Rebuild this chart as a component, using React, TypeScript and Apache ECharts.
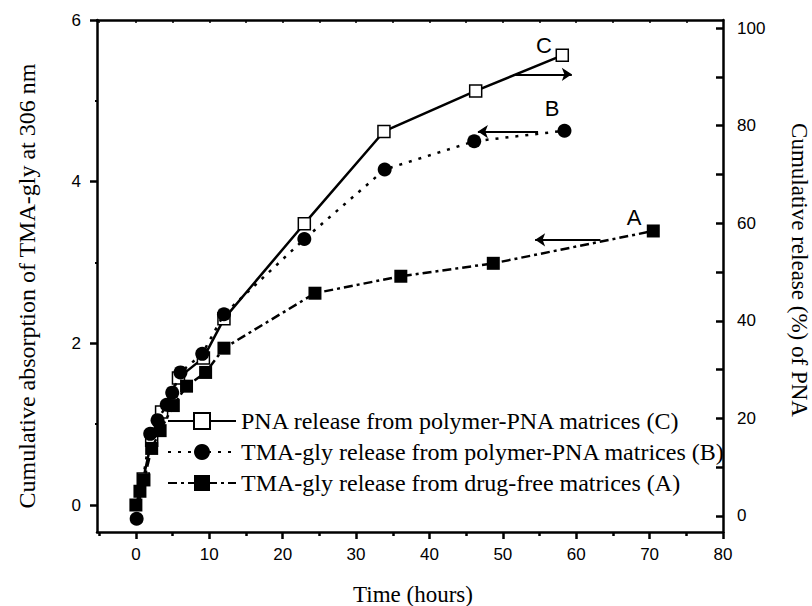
import React, { useEffect, useRef } from "react";
import * as echarts from "echarts";

// Series A: TMA-gly release from drug-free matrices (left axis, absorbance)
const timeA = [0, 0.55, 1.1, 2.15, 3.3, 5.1, 6.9, 9.5, 12.0, 24.4, 36.1, 48.7, 70.5];
const absA = [0.0, 0.17, 0.31, 0.7, 0.92, 1.23, 1.47, 1.64, 1.94, 2.62, 2.83, 2.99, 3.39];

// Series B: TMA-gly release from polymer-PNA matrices (left axis, absorbance)
const timeB = [0.1, 1.95, 2.95, 4.2, 4.95, 6.07, 9.04, 12.0, 22.95, 33.9, 46.1, 58.4];
const absB = [-0.17, 0.88, 1.05, 1.24, 1.39, 1.64, 1.87, 2.36, 3.29, 4.15, 4.5, 4.63];

// Series C: PNA release from polymer-PNA matrices (right axis, % released)
const timeC = [1.0, 2.15, 3.5, 5.8, 9.2, 12.0, 22.95, 33.8, 46.3, 58.1];
const pctC = [7.6, 15.5, 21.3, 28.3, 32.4, 40.4, 59.9, 78.8, 87.1, 94.4];

// Axis ticks / labels
const xMajor = [0, 10, 20, 30, 40, 50, 60, 70, 80];
const xMinor = [-5, 5, 15, 25, 35, 45, 55, 65, 75];
const xTop = [-5, 0, 5, 10, 15, 20, 25, 30, 35, 40, 45, 50, 55, 60, 65, 70, 75];
const yLeftMajor = [0, 2, 4, 6];
const yLeftMinor = [1, 3, 5];
const yRightLabels = [0, 20, 40, 60, 80, 100];
const yRightTicks = [0, 10, 20, 30, 40, 50, 60, 70, 80, 90, 100];

const nameC = "PNA release from polymer-PNA matrices (C)";
const nameB = "TMA-gly release from polymer-PNA matrices (B)";
const nameA = "TMA-gly release from drug-free matrices (A)";

const SANS = "Liberation Sans";
const SERIF = "Liberation Serif";

export default function App() {
  const ref = useRef<HTMLDivElement>(null);
  useEffect(() => {
    if (!ref.current) return;
    const chart = echarts.init(ref.current, null, { renderer: "svg" });
    const X_MIN = -5.3;
    const X_MAX = 80;
    const axisLine = { show: true, onZero: false, lineStyle: { color: "#000", width: 2.5 } };
    const noLine = { show: false, onZero: false };
    const labelStyle = { fontFamily: SANS, fontSize: 17, color: "#000" };
    const letterLabel = (t: string) => ({
      show: true,
      formatter: t,
      position: "inside",
      fontFamily: SANS,
      fontSize: 22,
      color: "#000",
    });
    const option: any = {
      animation: false,
      backgroundColor: "#fff",
      grid: { left: 97, right: 89, top: 20, bottom: 74 },
      legend: {
        orient: "vertical",
        left: 162,
        top: 404,
        itemWidth: 68,
        itemHeight: 20,
        itemGap: 7,
        textStyle: { fontFamily: SERIF, fontSize: 24, color: "#000" },
        data: [nameC, nameB, nameA],
      },
      xAxis: [
        {
          type: "value",
          min: X_MIN,
          max: X_MAX,
          position: "bottom",
          axisLine,
          axisTick: { show: true, length: 7, lineStyle: { color: "#000", width: 2.5 }, customValues: xMajor },
          axisLabel: { ...labelStyle, margin: 14, customValues: xMajor },
          splitLine: { show: false },
        },
        {
          type: "value",
          min: X_MIN,
          max: X_MAX,
          position: "bottom",
          axisLine: noLine,
          axisTick: { show: true, length: 4, lineStyle: { color: "#000", width: 2.5 }, customValues: xMinor },
          axisLabel: { show: false },
          splitLine: { show: false },
        },
        {
          type: "value",
          min: X_MIN,
          max: X_MAX,
          position: "top",
          axisLine,
          axisTick: { show: true, inside: true, length: 3, lineStyle: { color: "#000", width: 1.5 }, customValues: xTop },
          axisLabel: { show: false },
          splitLine: { show: false },
        },
      ],
      yAxis: [
        {
          type: "value",
          min: -0.334,
          max: 6,
          position: "left",
          axisLine,
          axisTick: { show: true, length: 7, lineStyle: { color: "#000", width: 2.5 }, customValues: yLeftMajor },
          axisLabel: { ...labelStyle, margin: 16, customValues: yLeftMajor },
          splitLine: { show: false },
        },
        {
          type: "value",
          min: -3.28,
          max: 101.64,
          position: "right",
          axisLine,
          axisTick: { show: true, inside: true, length: 7, lineStyle: { color: "#000", width: 2.5 }, customValues: yRightTicks },
          axisLabel: { ...labelStyle, margin: 14, customValues: yRightLabels },
          splitLine: { show: false },
        },
        {
          type: "value",
          min: -0.334,
          max: 6,
          position: "left",
          axisLine: noLine,
          axisTick: { show: true, length: 2, lineStyle: { color: "#000", width: 2 }, customValues: yLeftMinor },
          axisLabel: { show: false },
          splitLine: { show: false },
        },
      ],
      series: [
        {
          name: nameC,
          type: "line",
          xAxisIndex: 0,
          yAxisIndex: 1,
          data: timeC.map((t, i) => [t, pctC[i]]),
          symbol: "rect",
          symbolSize: 12,
          itemStyle: { color: "#fff", borderColor: "#000", borderWidth: 1.5 },
          lineStyle: { color: "#000", width: 2.5, type: "solid" },
          z: 2,
          markLine: {
            silent: true,
            symbol: ["none", "arrow"],
            symbolSize: 10,
            label: { show: false },
            lineStyle: { color: "#000", width: 2, type: "solid" },
            data: [[{ coord: [51.4, 90.5] }, { coord: [59.4, 90.5] }]],
          },
          markPoint: {
            silent: true,
            symbol: "circle",
            symbolSize: 1,
            itemStyle: { color: "transparent" },
            data: [{ coord: [55.6, 96.5], label: letterLabel("C") }],
          },
        },
        {
          name: nameB,
          type: "line",
          xAxisIndex: 0,
          yAxisIndex: 0,
          data: timeB.map((t, i) => [t, absB[i]]),
          symbol: "circle",
          symbolSize: 14,
          itemStyle: { color: "#000" },
          lineStyle: { color: "#000", width: 2.5, type: [3, 7] },
          z: 3,
          markLine: {
            silent: true,
            symbol: ["none", "arrow"],
            symbolSize: 10,
            label: { show: false },
            lineStyle: { color: "#000", width: 2, type: "solid" },
            data: [[{ coord: [54.8, 4.62] }, { coord: [46.6, 4.62] }]],
          },
          markPoint: {
            silent: true,
            symbol: "circle",
            symbolSize: 1,
            itemStyle: { color: "transparent" },
            data: [{ coord: [56.7, 4.9], label: letterLabel("B") }],
          },
        },
        {
          name: nameA,
          type: "line",
          xAxisIndex: 0,
          yAxisIndex: 0,
          data: timeA.map((t, i) => [t, absA[i]]),
          symbol: "rect",
          symbolSize: 13,
          itemStyle: { color: "#000" },
          lineStyle: { color: "#000", width: 2.5, type: [9, 4, 3, 4] },
          z: 4,
          markLine: {
            silent: true,
            symbol: ["none", "arrow"],
            symbolSize: 10,
            label: { show: false },
            lineStyle: { color: "#000", width: 2, type: "solid" },
            data: [[{ coord: [63.3, 3.28] }, { coord: [54.4, 3.28] }]],
          },
          markPoint: {
            silent: true,
            symbol: "circle",
            symbolSize: 1,
            itemStyle: { color: "transparent" },
            data: [{ coord: [67.9, 3.56], label: letterLabel("A") }],
          },
        },
      ],
      graphic: [
        {
          type: "text",
          x: 27,
          y: 286,
          rotation: Math.PI / 2,
          style: {
            text: "Cumulative absorption of TMA-gly at 306 nm",
            font: `24px "${SERIF}"`,
            fill: "#000",
            textAlign: "center",
            textVerticalAlign: "middle",
          },
        },
        {
          type: "text",
          x: 799,
          y: 270,
          rotation: -Math.PI / 2,
          style: {
            text: "Cumulative release (%) of PNA",
            font: `23px "${SERIF}"`,
            fill: "#000",
            textAlign: "center",
            textVerticalAlign: "middle",
          },
        },
        {
          type: "text",
          x: 413,
          y: 594,
          style: {
            text: "Time (hours)",
            font: `23px "${SERIF}"`,
            fill: "#000",
            textAlign: "center",
            textVerticalAlign: "middle",
          },
        },
      ],
    };
    chart.setOption(option);
    return () => chart.dispose();
  }, []);
  return (
    <div
      ref={ref}
      style={{ position: "fixed", left: 0, top: 0, width: 812, height: 606, background: "#fff" }}
    />
  );
}
